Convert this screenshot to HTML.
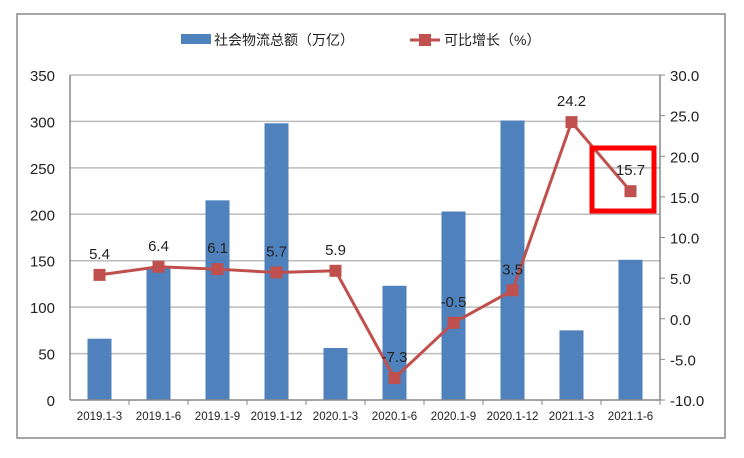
<!DOCTYPE html>
<html><head><meta charset="utf-8"><style>
body{margin:0;background:#fff;}
svg text{font-family:"Liberation Sans","Noto Sans CJK SC",sans-serif;}
</style></head><body>
<svg id="c" width="744" height="453" xmlns="http://www.w3.org/2000/svg">
<rect x="17" y="14" width="708" height="424" fill="#fff" stroke="#888" stroke-width="1.5"/>
<g id="legend">
<rect x="181" y="34" width="30" height="10" fill="#4f81bd"/>
<text x="214" y="45" font-size="14" fill="#222">社会物流总额（万亿）</text>
<line x1="410" y1="40" x2="440" y2="40" stroke="#c0504d" stroke-width="3"/>
<rect x="419" y="34" width="12" height="12" fill="#c0504d"/>
<text x="444" y="45" font-size="14" fill="#222">可比增长（%）</text>
</g>
<g id="grid"></g><g id="bars"></g><g id="axes"></g><g id="line"></g>
<rect x="592" y="148" width="62" height="63" fill="none" stroke="#f00" stroke-width="5"/>
</svg>
<script>
const categories=["2019.1-3","2019.1-6","2019.1-9","2019.1-12","2020.1-3","2020.1-6","2020.1-9","2020.1-12","2021.1-3","2021.1-6"];
const totals=[66,143,215,298,56,123,203,301,75,151];
const growth=[5.4,6.4,6.1,5.7,5.9,-7.3,-0.5,3.5,24.2,15.7];
const leftTicks=[0,50,100,150,200,250,300,350];
const rightTicks=[-10,-5,0,5,10,15,20,25,30];
const NS="http://www.w3.org/2000/svg";
const X0=70,X1=660,Y0=400,Y1=75;
const bw=(X1-X0)/categories.length;
const yL=v=>Y0-(v/350)*(Y0-Y1);
const yR=v=>Y0-((v+10)/40)*(Y0-Y1);
const xC=i=>X0+bw*(i+0.5);
function mk(tag,attrs,parent,text){const e=document.createElementNS(NS,tag);for(const k in attrs)e.setAttribute(k,attrs[k]);if(text!==undefined)e.textContent=text;document.getElementById(parent).appendChild(e);return e;}
leftTicks.forEach(v=>{
 if(v>0){const g=mk('line',{x1:X0,x2:X1,y1:yL(v),y2:yL(v),stroke:'#bbb','stroke-width':1.5},'grid');
 
 }
 const t=mk('text',{x:55,y:yL(v)+6,'font-size':15,'text-anchor':'end',fill:'#222'},'axes',v);
 
 
});
rightTicks.forEach(v=>{
 const t=mk('text',{x:670,y:yR(v)+6,'font-size':15,fill:'#222'},'axes',v.toFixed(1));
 
 
 const k=mk('line',{x1:X1,x2:X1+5,y1:yR(v),y2:yR(v),stroke:'#888'},'axes');
 
 
});
const la=mk('line',{x1:X0,x2:X0,y1:Y1,y2:Y0,stroke:'#888','stroke-width':1.5},'axes');


const ra=mk('line',{x1:X1,x2:X1,y1:Y1,y2:Y0,stroke:'#888','stroke-width':1.5},'axes');


const xa=mk('line',{x1:X0,x2:X1,y1:Y0,y2:Y0,stroke:'#888','stroke-width':1.5},'axes');


categories.forEach((c,i)=>{
 const b=mk('rect',{x:xC(i)-12,y:yL(totals[i]),width:24,height:Y0-yL(totals[i]),fill:'#4f81bd'},'bars');
 
 
 const t=mk('text',{x:xC(i),y:420,'font-size':11.5,'text-anchor':'middle',fill:'#222'},'axes',c);
 
 
 const k=mk('line',{x1:X0+bw*(i+1),x2:X0+bw*(i+1),y1:Y0,y2:Y0+5,stroke:'#888'},'axes');
 
 
});
const pl=mk('polyline',{points:growth.map((v,i)=>xC(i)+','+yR(v)).join(' '),fill:'none',stroke:'#c0504d','stroke-width':3},'line');


growth.forEach((v,i)=>{
 const m=mk('rect',{x:xC(i)-6,y:yR(v)-6,width:12,height:12,fill:'#c0504d'},'line');
 
 
 const t=mk('text',{x:xC(i),y:yR(v)-16,'font-size':15,'text-anchor':'middle',fill:'#222'},'line',v.toFixed(1));
 
 
});
</script>
</body></html>
